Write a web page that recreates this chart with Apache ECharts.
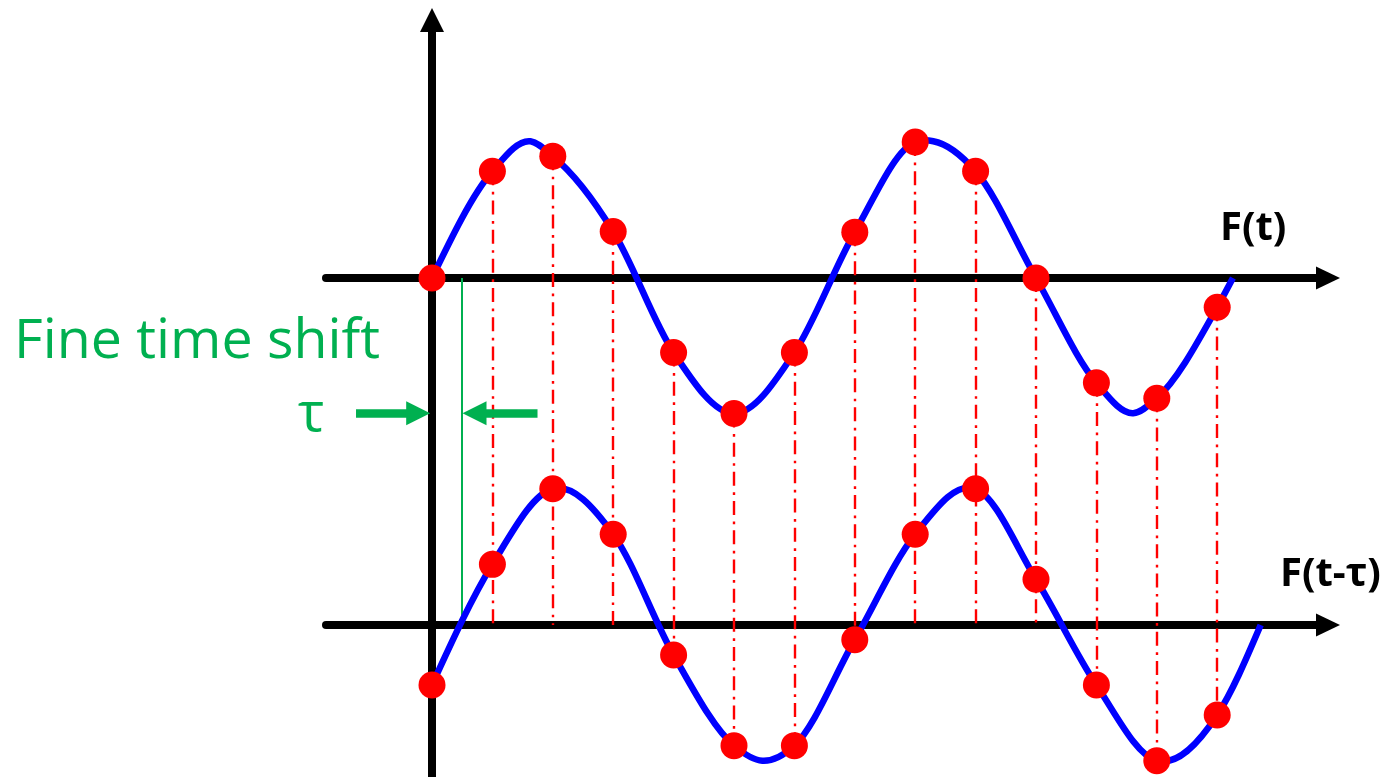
<!DOCTYPE html>
<html><head><meta charset="utf-8">
<script src="https://cdn.jsdelivr.net/npm/echarts@6/dist/echarts.min.js"></script>
<style>html,body{margin:0;padding:0;background:#fff}#c{width:1381px;height:777px}</style>
</head><body><div id="c"></div>
<script>
// ---- data ----
// sample instants (in sample periods)
const sampleT = [0, 1, 2, 3, 4, 5, 6, 7, 8, 9, 10, 11, 12, 13];
// F(t) at the sample instants (amplitude ~1)
const upperSamples = [0, 0.785, 0.896, 0.342, -0.548, -0.996, -0.548, 0.337, 1.0, 0.785, 0, -0.771, -0.884, -0.215];
// F(t-τ) at the sample instants
const lowerSamples = [-0.441, 0.446, 1.002, 0.667, -0.221, -0.887, -0.887, -0.108, 0.667, 1.002, 0.336, -0.441, -0.998, -0.662];
// further points (extrema and curve ends)
const upperExtraT = [1.63, 8.3, 11.61, 13.26];
const upperExtraV = [1.005, 1.006, -0.994, 0];
const lowerExtraT = [5.47, 13.72];
const lowerExtraV = [-0.998, 0];
// the fine time shift
const tau = 0.485;
// annotation arrows: [tail, tip] in sample periods, level in F units
const arrowLeft = [-1.258, -0.03];
const arrowRight = [1.747, 0.505];
const arrowLevel = -0.995;
const labelUpper = 'F(t)';
const labelLower = 'F(t-τ)';
const labelShift = 'Fine time shift';
const labelTau = 'τ';

// ---- layout (pixels) ----
const L = { t0: 432, pxPerT: 60.4, upperBase: 278, lowerBase: 625, pxPerUnit: 136,
            left: 326, right: 1328, top: 20, bottom: 777 };
const xMin = (L.left - L.t0) / L.pxPerT, xMax = (L.right - L.t0) / L.pxPerT;
const yMax0 = (L.upperBase - L.top) / L.pxPerUnit, yMin0 = (L.upperBase - L.bottom) / L.pxPerUnit;
const D = (L.lowerBase - L.upperBase) / L.pxPerUnit; // lower baseline offset in upper-axis units

function mergeCurve(ts, vs, et, ev) {
  const pts = ts.map((t, i) => [t, vs[i]]).concat(et.map((t, i) => [t, ev[i]]));
  pts.sort((a, b) => a[0] - b[0]);
  return pts;
}
const upperCurve = mergeCurve(sampleT, upperSamples, upperExtraT, upperExtraV);
const lowerCurve = mergeCurve(sampleT, lowerSamples, lowerExtraT, lowerExtraV);

const RED = '#ff0000', BLUE = '#0000ff', GREEN = '#00b050';
const headLen = 24;
const headHalfT = (headLen / 2) / L.pxPerT;

const dropLines = sampleT.slice(1).map((t, i) => {
  const k = i + 1;
  return { coords: [[t, upperSamples[k]], [t, Math.min(lowerSamples[k], 0) - D]] };
});

// smooth curve through the read points (cubic Hermite, drawn via the axes' scales)
function curveRenderer(color) {
  return function (params, api) {
    if (params.dataIndexInside !== 0) return null;
    const n = params.dataInsideLength;
    const P = [];
    for (let i = 0; i < n; i++) P.push(api.coord([api.value(0, i), api.value(1, i)]));
    const s = [];
    for (let i = 0; i < n - 1; i++) s.push((P[i + 1][1] - P[i][1]) / (P[i + 1][0] - P[i][0]));
    const m = new Array(n);
    for (let i = 1; i < n - 1; i++) {
      const h0 = P[i][0] - P[i - 1][0], h1 = P[i + 1][0] - P[i][0];
      m[i] = (h1 * s[i - 1] + h0 * s[i]) / (h0 + h1);
    }
    m[0] = (3 * s[0] - m[1]) / 2;
    m[n - 1] = (3 * s[n - 2] - m[n - 2]) / 2;
    let d = 'M' + P[0][0] + ' ' + P[0][1];
    for (let i = 0; i < n - 1; i++) {
      const h = P[i + 1][0] - P[i][0];
      d += ' C' + (P[i][0] + h / 3) + ' ' + (P[i][1] + m[i] * h / 3) + ' ' +
           (P[i + 1][0] - h / 3) + ' ' + (P[i + 1][1] - m[i + 1] * h / 3) + ' ' +
           P[i + 1][0] + ' ' + P[i + 1][1];
    }
    return { type: 'path', shape: { pathData: d },
             style: { stroke: color, lineWidth: 6.5, fill: 'none', lineCap: 'butt', lineJoin: 'round' } };
  };
}

const axisCommon = { axisTick: { show: false }, axisLabel: { show: false }, splitLine: { show: false } };
const axisLineStyle = { color: '#000', width: 8 };

const chart = echarts.init(document.getElementById('c'), null, { renderer: 'canvas' });
chart.setOption({
  animation: false,
  backgroundColor: '#fff',
  grid: { left: L.left, right: 1381 - L.right, top: L.top, bottom: 777 - L.bottom, containLabel: false, outerBoundsMode: 'none' },
  xAxis: [
    Object.assign({ type: 'value', min: xMin, max: xMax,
      axisLine: { show: true, onZero: true, onZeroAxisIndex: 0, lineStyle: axisLineStyle, symbol: ['none', 'triangle'], symbolSize: [23, 24] } }, axisCommon),
    Object.assign({ type: 'value', min: xMin, max: xMax, position: 'bottom',
      axisLine: { show: true, onZero: true, onZeroAxisIndex: 1, lineStyle: axisLineStyle, symbol: ['none', 'triangle'], symbolSize: [23, 24] } }, axisCommon)
  ],
  yAxis: [
    Object.assign({ type: 'value', min: yMin0, max: yMax0,
      axisLine: { show: true, onZero: true, onZeroAxisIndex: 0, lineStyle: axisLineStyle, symbol: ['none', 'triangle'], symbolSize: [24, 24] } }, axisCommon),
    Object.assign({ type: 'value', min: yMin0 + D, max: yMax0 + D, show: false, axisLine: { show: false } }, axisCommon)
  ],
  series: [
    { type: 'lines', coordinateSystem: 'cartesian2d', xAxisIndex: 0, yAxisIndex: 0, silent: true, z: 2,
      polyline: false, data: dropLines,
      lineStyle: { color: RED, width: 2.4, opacity: 1, type: [14, 6.5, 2.7, 6] } },
    { type: 'lines', coordinateSystem: 'cartesian2d', xAxisIndex: 0, yAxisIndex: 0, silent: true, z: 2,
      data: [{ coords: [[tau, 0], [tau, -D]] }],
      lineStyle: { color: GREEN, width: 2, opacity: 1, type: 'solid' } },
    { type: 'lines', coordinateSystem: 'cartesian2d', xAxisIndex: 0, yAxisIndex: 0, silent: true, z: 5,
      symbol: ['none', 'triangle'], symbolSize: headLen,
      data: [
        { coords: [[arrowLeft[0], arrowLevel], [arrowLeft[1] - headHalfT, arrowLevel]] },
        { coords: [[arrowRight[0], arrowLevel], [arrowRight[1] + headHalfT, arrowLevel]] }
      ],
      lineStyle: { color: GREEN, width: 8.5, opacity: 1, type: 'solid' } },
    { type: 'custom', coordinateSystem: 'cartesian2d', xAxisIndex: 0, yAxisIndex: 0, silent: true, z: 3,
      data: upperCurve, encode: { x: 0, y: 1 }, renderItem: curveRenderer(BLUE) },
    { type: 'custom', coordinateSystem: 'cartesian2d', xAxisIndex: 0, yAxisIndex: 1, silent: true, z: 3,
      data: lowerCurve, encode: { x: 0, y: 1 }, renderItem: curveRenderer(BLUE) },
    { type: 'scatter', xAxisIndex: 0, yAxisIndex: 0, data: sampleT.map((t, i) => [t, upperSamples[i]]),
      symbolSize: 27, itemStyle: { color: RED, opacity: 1 }, z: 4, silent: true },
    { type: 'scatter', xAxisIndex: 0, yAxisIndex: 1, data: sampleT.map((t, i) => [t, lowerSamples[i]]),
      symbolSize: 27, itemStyle: { color: RED, opacity: 1 }, z: 4, silent: true }
  ],
  graphic: [
    { type: 'text', x: 1220, y: 229, style: { text: labelUpper, font: 'bold 40px "Open Sans", sans-serif', fill: '#000', align: 'left', verticalAlign: 'middle' } },
    { type: 'text', x: 1280, y: 574.5, style: { text: labelLower, font: 'bold 40px "Open Sans", sans-serif', fill: '#000', align: 'left', verticalAlign: 'middle' } },
    { type: 'text', x: 14, y: 342.5, style: { text: labelShift, font: '55.5px "Open Sans", sans-serif', fill: GREEN, align: 'left', verticalAlign: 'middle' } },
    { type: 'text', x: 298, y: 415, style: { text: labelTau, font: '55.5px "Open Sans", sans-serif', fill: GREEN, align: 'left', verticalAlign: 'middle' } }
  ]
});
</script></body></html>
